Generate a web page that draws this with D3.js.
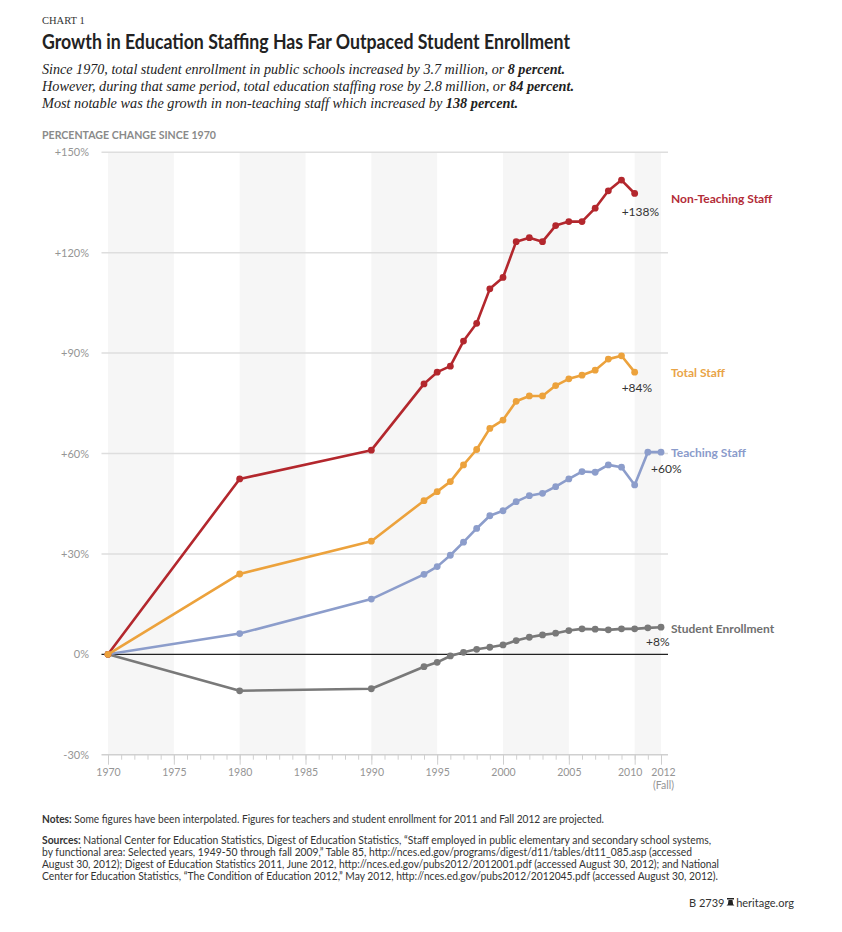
<!DOCTYPE html>
<html>
<head>
<meta charset="utf-8">
<script src="https://d3js.org/d3.v7.min.js"></script>
<style>
    body { margin: 0; background: #fff; }
    svg { display: block; }
</style>
</head>
<body>
<div id="chart"></div>
<script>
// values (percentage change since 1970)
var years = [1970, 1980, 1990, 1994, 1995, 1996, 1997, 1998, 1999, 2000, 2001,
    2002, 2003, 2004, 2005, 2006, 2007, 2008, 2009, 2010, 2011, 2012];

var nonTeaching = [0, 52.4, 61.0, 80.8, 84.3, 86.1, 93.6, 98.9, 109.2, 112.6, 123.3,
    124.5, 123.3, 128.1, 129.3, 129.3, 133.3, 138.5, 141.7, 137.7];
var totalStaff = [0, 24.0, 33.8, 45.9, 48.6, 51.6, 56.6, 61.2, 67.5, 70.0, 75.6,
    77.2, 77.2, 80.3, 82.3, 83.4, 84.9, 88.2, 89.2, 84.3];
var teaching = [0, 6.2, 16.5, 23.9, 26.2, 29.6, 33.5, 37.6, 41.4, 42.9, 45.6,
    47.4, 48.1, 50.1, 52.4, 54.6, 54.4, 56.6, 55.9, 50.6, 60.4, 60.4];
var enrollment = [0, -10.9, -10.3, -3.7, -2.4, -0.5, 0.6, 1.5, 2.1, 2.8, 4.1,
    5.1, 5.8, 6.3, 7.1, 7.6, 7.5, 7.3, 7.6, 7.6, 7.9, 8.1];

var yTicks = [-30, 0, 30, 60, 90, 120, 150];
var yTickLabels = ['-30%', '0%', '+30%', '+60%', '+90%', '+120%', '+150%'];
var xTickLabels = [1970, 1975, 1980, 1985, 1990, 1995, 2000, 2005, 2010, 2012];

var seriesNames = ['Student Enrollment', 'Teaching Staff', 'Non-Teaching Staff', 'Total Staff'];
var seriesValues = [enrollment, teaching, nonTeaching, totalStaff];
var seriesTotals = ['+8%', '+60%', '+138%', '+84%'];

// styling / label placement per series (same order as above)
var lineColors = ['#797979', '#8c9dcb', '#b3272d', '#eca23c'];
var textColors = ['#6f6f6f', '#8a9bcb', '#b32c37', '#e9a447'];
var nameDy = [6, 5, 9.5, 5];
var totalDx = [-15, -10, -13, -13];
var totalDy = [19, 21, 22.5, 20];

var sans = 'Lato, "Noto Sans", sans-serif';
var serif = '"Liberation Serif", "DejaVu Serif", serif';

var svg = d3.select('#chart').append('svg')
    .attr('width', 842)
    .attr('height', 932);

// ---- header ----
svg.append('text')
    .attr('x', 42).attr('y', 24)
    .attr('font-family', serif).attr('font-size', 10.5).attr('fill', '#333')
    .text('CHART 1');

svg.append('text')
    .attr('x', 42).attr('y', 49)
    .attr('font-family', sans).attr('font-size', 20).attr('font-weight', 700).attr('fill', '#222')
    .attr('textLength', 528).attr('lengthAdjust', 'spacingAndGlyphs')
    .text('Growth in Education Staffing Has Far Outpaced Student Enrollment');

var subtitle = [
    [['Since 1970, total student enrollment in public schools increased by 3.7 million, or ', false], ['8 percent.', true]],
    [['However, during that same period, total education staffing rose by 2.8 million, or ', false], ['84 percent.', true]],
    [['Most notable was the growth in non-teaching staff which increased by ', false], ['138 percent.', true]]
];
var subWidths = [523, 532, 476];

subtitle.forEach(function (parts, i) {
    var t = svg.append('text')
        .attr('x', 42).attr('y', 73.5 + i * 17)
        .attr('font-family', serif).attr('font-size', 14).attr('font-style', 'italic').attr('fill', '#222')
        .attr('textLength', subWidths[i]).attr('lengthAdjust', 'spacingAndGlyphs');
    parts.forEach(function (p) {
        t.append('tspan').attr('font-weight', p[1] ? 700 : 400).text(p[0]);
    });
});

svg.append('text')
    .attr('x', 42).attr('y', 139)
    .attr('font-family', sans).attr('font-size', 10.5).attr('font-weight', 700).attr('fill', '#8a8a8a')
    .attr('textLength', 174).attr('lengthAdjust', 'spacingAndGlyphs')
    .text('PERCENTAGE CHANGE SINCE 1970');

// ---- scales ----
var x = d3.scaleLinear().domain([1970, 2012]).range([108, 661]);
var y = d3.scaleLinear().domain([-30, 150]).range([754.7, 152.3]);
var gridLeft = 101.5, gridRight = 668;

// alternating background bands, every other 5 years
var bandStarts = d3.range(1970, 2012, 10);
svg.append('g').selectAll('rect')
    .data(bandStarts)
    .enter().append('rect')
    .attr('x', function (d) { return x(d); })
    .attr('width', function (d) { return x(Math.min(d + 5, 2012)) - x(d); })
    .attr('y', y(150))
    .attr('height', y(-30) - y(150))
    .attr('fill', '#f6f6f6');

// horizontal gridlines
svg.append('g').selectAll('line')
    .data(yTicks)
    .enter().append('line')
    .attr('x1', gridLeft).attr('x2', gridRight)
    .attr('y1', function (d) { return y(d); })
    .attr('y2', function (d) { return y(d); })
    .attr('stroke', function (d) { return d === 0 ? '#222' : (d === -30 ? '#d0d0d0' : '#dedede'); })
    .attr('stroke-width', function (d) { return d === 0 ? 1.2 : 1.5; });

// y axis labels
var yAxis = svg.append('g')
    .attr('transform', 'translate(' + gridLeft + ',0)')
    .call(d3.axisLeft(y)
        .tickValues(yTicks)
        .tickSize(0)
        .tickPadding(12.5)
        .tickFormat(function (d) { return yTickLabels[yTicks.indexOf(d)]; }));
yAxis.select('.domain').remove();
yAxis.selectAll('text')
    .attr('font-family', sans).attr('font-size', 11).attr('fill', '#959595');

// x axis: minor ticks every year, longer labelled ticks
var xMinor = svg.append('g')
    .attr('transform', 'translate(0,' + y(-30) + ')')
    .call(d3.axisBottom(x)
        .tickValues(d3.range(1970, 2013))
        .tickSize(5)
        .tickSizeOuter(0)
        .tickFormat(''));
xMinor.select('.domain').remove();
xMinor.selectAll('line').attr('stroke', '#cfcfcf');

var xAxis = svg.append('g')
    .attr('transform', 'translate(0,' + y(-30) + ')')
    .call(d3.axisBottom(x)
        .tickValues(xTickLabels)
        .tickSize(10)
        .tickPadding(4)
        .tickFormat(d3.format('d')));
xAxis.select('.domain').remove();
xAxis.selectAll('line').attr('stroke', '#cfcfcf');
xAxis.selectAll('text')
    .attr('font-family', sans).attr('font-size', 10.5).attr('fill', '#959595');
// the last two labels sit close together, nudge them apart
xAxis.selectAll('.tick')
    .filter(function (d) { return d === 2010; })
    .select('text').attr('dx', -5);
xAxis.selectAll('.tick')
    .filter(function (d) { return d === 2012; })
    .select('text')
    .attr('dx', 2)
    .append('tspan')
    .attr('x', 0).attr('dx', 2).attr('dy', '1.2em')
    .text('(Fall)');

// ---- series ----
var line = d3.line()
    .x(function (d) { return x(d.year); })
    .y(function (d) { return y(d.value); });

seriesNames.forEach(function (name, i) {
    var points = seriesValues[i].map(function (v, j) {
        return {year: years[j], value: v};
    });
    var last = points[points.length - 1];
    var g = svg.append('g');

    g.append('path')
        .datum(points)
        .attr('d', line)
        .attr('fill', 'none')
        .attr('stroke', lineColors[i])
        .attr('stroke-width', 2.6)
        .attr('stroke-linejoin', 'round');

    g.selectAll('circle')
        .data(points)
        .enter().append('circle')
        .attr('cx', function (d) { return x(d.year); })
        .attr('cy', function (d) { return y(d.value); })
        .attr('r', 3.4)
        .attr('fill', lineColors[i]);

    g.append('text')
        .attr('x', x(2012) + 10)
        .attr('y', y(last.value) + nameDy[i])
        .attr('font-family', sans).attr('font-size', 12).attr('font-weight', 700)
        .attr('fill', textColors[i])
        .text(name);

    g.append('text')
        .attr('x', x(last.year) + totalDx[i])
        .attr('y', y(last.value) + totalDy[i])
        .attr('font-family', sans).attr('font-size', 12).attr('fill', '#333')
        .text(seriesTotals[i]);
});

// ---- notes & sources ----
var noteSize = 10.5;
var notes = svg.append('text')
    .attr('x', 42).attr('y', 823)
    .attr('font-family', sans).attr('font-size', noteSize).attr('fill', '#333')
    .attr('textLength', 562).attr('lengthAdjust', 'spacingAndGlyphs');
notes.append('tspan').attr('font-weight', 700).text('Notes:');
notes.append('tspan').text(' Some figures have been interpolated. Figures for teachers and student enrollment for 2011 and Fall 2012 are projected.');

var sources = [
    'National Center for Education Statistics, Digest of Education Statistics, \u201cStaff employed in public elementary and secondary school systems,',
    'by functional area: Selected years, 1949-50 through fall 2009,\u201d Table 85, http://nces.ed.gov/programs/digest/d11/tables/dt11_085.asp (accessed',
    'August 30, 2012); Digest of Education Statistics 2011, June 2012, http://nces.ed.gov/pubs2012/2012001.pdf (accessed August 30, 2012); and National',
    'Center for Education Statistics, \u201cThe Condition of Education 2012,\u201d May 2012, http://nces.ed.gov/pubs2012/2012045.pdf (accessed August 30, 2012).'
];
var sourceWidths = [669, 650, 677, 676];

sources.forEach(function (s, i) {
    var t = svg.append('text')
        .attr('x', 42).attr('y', 843.5 + i * 12)
        .attr('font-family', sans).attr('font-size', noteSize).attr('fill', '#333')
        .attr('textLength', sourceWidths[i]).attr('lengthAdjust', 'spacingAndGlyphs');
    if (i === 0) {
        t.append('tspan').attr('font-weight', 700).text('Sources: ');
    }
    t.append('tspan').text(s);
});

// footer with a small bell mark
svg.append('text')
    .attr('x', 689).attr('y', 907)
    .attr('font-family', sans).attr('font-size', 11).attr('fill', '#333')
    .text('B 2739');

svg.append('path')
    .attr('transform', 'translate(730.5,898)')
    .attr('d', 'M-3.5,0 h7 v1.4 h-7 Z M-2,2 h4 l0.6,4.2 l1.4,1.4 h-8 l1.4,-1.4 Z')
    .attr('fill', '#222');

svg.append('text')
    .attr('x', 794).attr('y', 907)
    .attr('text-anchor', 'end')
    .attr('font-family', sans).attr('font-size', 11).attr('fill', '#333')
    .text('heritage.org');
</script>
</body>
</html>
